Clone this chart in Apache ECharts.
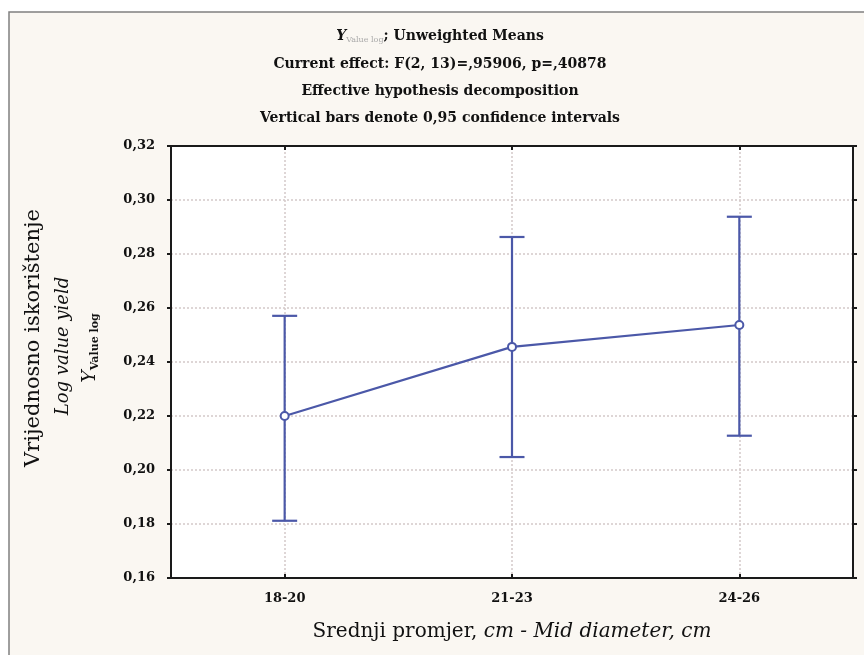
<!DOCTYPE html>
<html>
<head>
<meta charset="utf-8">
<script src="https://cdn.jsdelivr.net/npm/echarts@6/dist/echarts.min.js"></script>
<style>
html,body{margin:0;padding:0;background:#ffffff;}
#chart{width:864px;height:655px;}
</style>
</head>
<body>
<div id="chart"></div>
<script>
// ---- data ----
var categories = ['18-20', '21-23', '24-26'];
var means = [0.2200, 0.2456, 0.2537];
var lower = [0.1812, 0.2048, 0.2127];
var upper = [0.2571, 0.2863, 0.2938];

var blue = '#4b58a8';
var serif = '"DejaVu Serif", "Liberation Serif", serif';

var chart = echarts.init(document.getElementById('chart'));

var errData = categories.map(function (c, i) { return [i, lower[i], upper[i]]; });

function fmt(v) { return v.toFixed(2).replace('.', ','); }

var frameLine = { show: true, lineStyle: { color: '#1a1a1a', width: 2 } };
var tickStyle = { color: '#1a1a1a', width: 2 };
var gridDot = { color: '#d4c9c9', type: [2, 2], width: 1.5 };

var option = {
  animation: false,
  backgroundColor: '#ffffff',
  grid: {
    left: 171, right: 11, top: 146, bottom: 77,
    show: true, backgroundColor: '#ffffff', borderWidth: 0
  },
  graphic: [
    { type: 'rect', z: -10, silent: true,
      shape: { x: 9, y: 12, width: 900, height: 700 },
      style: { fill: '#faf7f2', stroke: '#808080', lineWidth: 1.5 } },
    { type: 'text', z: 10,
      style: {
        x: 440, y: 36, align: 'center', verticalAlign: 'middle',
        text: '{y|Y}{sub|Value log}{t|; Unweighted Means}',
        rich: {
          y: { fontFamily: serif, fontSize: 14, fontWeight: 'bold', fontStyle: 'italic', fill: '#111' },
          sub: { fontFamily: serif, fontSize: 8, fill: '#aaaaaa', padding: [8, 0, 0, 0] },
          t: { fontFamily: serif, fontSize: 14, fontWeight: 'bold', fill: '#111' }
        }
      } },
    { type: 'text', z: 10,
      style: { x: 440, y: 64, align: 'center', verticalAlign: 'middle',
        text: 'Current effect: F(2, 13)=,95906, p=,40878',
        font: 'bold 14px ' + serif, fill: '#111' } },
    { type: 'text', z: 10,
      style: { x: 440, y: 91, align: 'center', verticalAlign: 'middle',
        text: 'Effective hypothesis decomposition',
        font: 'bold 14px ' + serif, fill: '#111' } },
    { type: 'text', z: 10,
      style: { x: 440, y: 118, align: 'center', verticalAlign: 'middle',
        text: 'Vertical bars denote 0,95 confidence intervals',
        font: 'bold 14px ' + serif, fill: '#111' } },
    // y axis name (rotated, three lines)
    { type: 'text', z: 10, x: 34, y: 338, rotation: Math.PI / 2,
      style: { x: 0, y: 0, align: 'center', verticalAlign: 'middle',
        text: 'Vrijednosno iskorištenje', font: '21px ' + serif, fill: '#111' } },
    { type: 'text', z: 10, x: 63, y: 346, rotation: Math.PI / 2,
      style: { x: 0, y: 0, align: 'center', verticalAlign: 'middle',
        text: 'Log value yield', font: 'italic 18px ' + serif, fill: '#111' } },
    { type: 'text', z: 10, x: 90, y: 348, rotation: Math.PI / 2,
      style: { x: 0, y: 0, align: 'center', verticalAlign: 'middle',
        text: '{y|Y}{sub|Value log}',
        rich: {
          y: { fontFamily: serif, fontSize: 19, fontStyle: 'italic', fill: '#111' },
          sub: { fontFamily: serif, fontSize: 11, fontWeight: 'bold', fill: '#111', padding: [10, 0, 0, 0] }
        } } },
    // x axis name
    { type: 'text', z: 10,
      style: { x: 512, y: 632, align: 'center', verticalAlign: 'middle',
        text: '{n|Srednji promjer, }{i|cm - Mid diameter, cm}',
        rich: {
          n: { fontFamily: serif, fontSize: 20, fill: '#111' },
          i: { fontFamily: serif, fontSize: 20, fontStyle: 'italic', fill: '#111' }
        } } }
  ],
  xAxis: [{
    type: 'category', data: categories, position: 'bottom', z: 3,
    axisLine: frameLine,
    axisTick: { show: true, alignWithLabel: true, inside: true, length: 4, lineStyle: tickStyle },
    axisLabel: { fontFamily: serif, fontWeight: 'bold', fontSize: 13, color: '#111', margin: 14 },
    splitLine: { show: false }
  }, {
    type: 'category', data: categories, position: 'top', z: 3,
    axisLine: frameLine,
    axisTick: { show: true, alignWithLabel: true, inside: true, length: 4, lineStyle: tickStyle },
    axisLabel: { show: false },
    splitLine: { show: false }
  }],
  yAxis: [{
    type: 'value', min: 0.16, max: 0.32, interval: 0.02, position: 'left', z: 3,
    axisLine: frameLine,
    axisTick: { show: true, length: 4, lineStyle: tickStyle },
    axisLabel: { fontFamily: serif, fontWeight: 'bold', fontSize: 13, color: '#111', margin: 16, formatter: fmt },
    splitLine: { show: true, showMinLine: false, showMaxLine: false, lineStyle: gridDot }
  }, {
    type: 'value', min: 0.16, max: 0.32, interval: 0.02, position: 'right', z: 3,
    axisLine: frameLine,
    axisTick: { show: true, length: 4, lineStyle: tickStyle },
    axisLabel: { show: false },
    splitLine: { show: false }
  }],
  series: [
    {
      type: 'line', data: means, xAxisIndex: 0, yAxisIndex: 0,
      symbol: 'emptyCircle', symbolSize: 8,
      itemStyle: { color: blue, borderWidth: 2 },
      lineStyle: { color: blue, width: 2.2 },
      z: 5,
      markLine: {
        silent: true, symbol: 'none', label: { show: false }, z: 1,
        lineStyle: gridDot,
        data: categories.map(function (c) { return { xAxis: c }; })
      }
    },
    {
      type: 'custom', xAxisIndex: 0, yAxisIndex: 0, z: 4,
      data: errData,
      renderItem: function (params, api) {
        var x = api.value(0);
        var lo = api.coord([x, api.value(1)]);
        var hi = api.coord([x, api.value(2)]);
        var hw = 12.5;
        var st = { stroke: blue, lineWidth: 2.2, fill: null };
        return {
          type: 'group',
          children: [
            { type: 'line', shape: { x1: lo[0], y1: lo[1], x2: hi[0], y2: hi[1] }, style: st },
            { type: 'line', shape: { x1: hi[0] - hw, y1: hi[1], x2: hi[0] + hw, y2: hi[1] }, style: st },
            { type: 'line', shape: { x1: lo[0] - hw, y1: lo[1], x2: lo[0] + hw, y2: lo[1] }, style: st }
          ]
        };
      }
    }
  ]
};
chart.setOption(option);
</script>
</body>
</html>
